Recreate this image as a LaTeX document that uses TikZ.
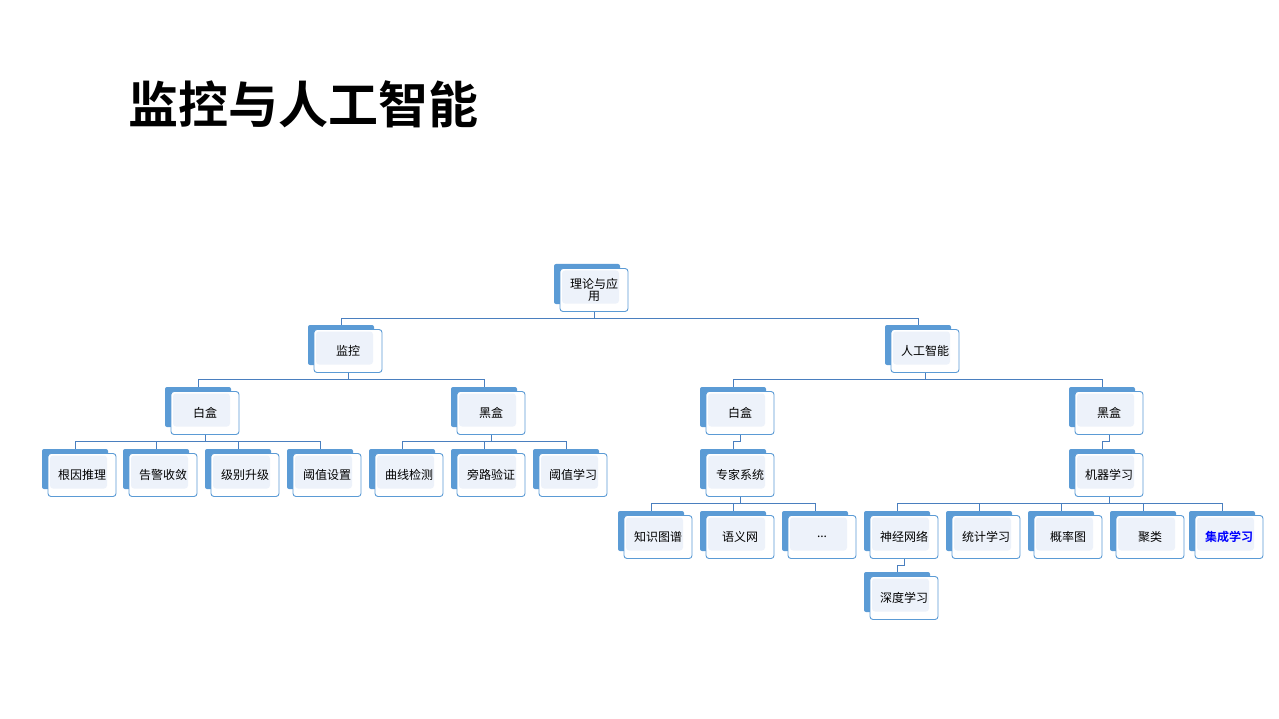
\documentclass[tikz,border=0pt]{standalone}
\usepackage{fontspec}
\setmainfont{Noto Sans CJK SC}
\newfontfamily\cjkb{Noto Sans CJK SC Bold}
\definecolor{bk}{HTML}{5B9BD5}
\definecolor{ln}{HTML}{4A7FBF}
\definecolor{lt}{HTML}{EDF2FA}
\tikzset{
 backbox/.style={fill=bk,rounded corners=2pt,minimum width=66pt,minimum height=40pt,inner sep=0pt},
 frontbox/.style={draw=bk,line width=0.9pt,fill=white,rounded corners=3pt,minimum width=68pt,minimum height=43pt,inner sep=1pt,align=center,font=\fontsize{12}{14}\selectfont,
   path picture={\fill[lt] ([shift={(2pt,-2pt)}]path picture bounding box.north west) rectangle ([shift={(-9pt,8pt)}]path picture bounding box.south east);}},
 conn/.style={draw=ln,line width=0.7pt}
}
\newcommand{\mynode}[4]{%
 \node[backbox] (#1-b) at (#2-7,#3-6) {};
 \node[frontbox] (#1) at (#2,#3) {#4};}
\newcommand{\myconn}[2]{\draw[conn] (#1.south) -- ++(0,-6pt) -| (#2-b.north);}
\begin{document}
\begin{tikzpicture}[x=1pt,y=-1pt]
\useasboundingbox (0,0) rectangle (1279,719);
\node[font=\cjkb\fontsize{50}{55}\selectfont] (title) at (303,104) {监控与人工智能};
\mynode{root}{594}{290}{理论与应\\[-2pt]用}
\mynode{jk}{348}{351}{监控}
\mynode{ai}{925}{351}{人工智能}
\mynode{bhl}{205}{413}{白盒}
\mynode{hhl}{491}{413}{黑盒}
\mynode{bhr}{740}{413}{白盒}
\mynode{hhr}{1109}{413}{黑盒}
\mynode{a1}{82}{475}{根因推理}
\mynode{a2}{163}{475}{告警收敛}
\mynode{a3}{245}{475}{级别升级}
\mynode{a4}{327}{475}{阈值设置}
\mynode{b1}{409}{475}{曲线检测}
\mynode{b2}{491}{475}{旁路验证}
\mynode{b3}{573}{475}{阈值学习}
\mynode{zj}{740}{475}{专家系统}
\mynode{jq}{1109}{475}{机器学习}
\mynode{c1}{658}{537}{知识图谱}
\mynode{c2}{740}{537}{语义网}
\mynode{c3}{822}{537}{...}
\mynode{d1}{904}{537}{神经网络}
\mynode{d2}{986}{537}{统计学习}
\mynode{d3}{1068}{537}{概率图}
\mynode{d4}{1150}{537}{聚类}
\mynode{d5}{1229}{537}{\textcolor{blue}{\cjkb 集成学习}}
\mynode{e1}{904}{598}{深度学习}
\myconn{root}{jk}\myconn{root}{ai}
\myconn{jk}{bhl}\myconn{jk}{hhl}
\myconn{ai}{bhr}\myconn{ai}{hhr}
\myconn{bhl}{a1}\myconn{bhl}{a2}\myconn{bhl}{a3}\myconn{bhl}{a4}
\myconn{hhl}{b1}\myconn{hhl}{b2}\myconn{hhl}{b3}
\myconn{bhr}{zj}\myconn{hhr}{jq}
\myconn{zj}{c1}\myconn{zj}{c2}\myconn{zj}{c3}
\myconn{jq}{d1}\myconn{jq}{d2}\myconn{jq}{d3}\myconn{jq}{d4}\myconn{jq}{d5}
\myconn{d1}{e1}
\end{tikzpicture}
\end{document}
